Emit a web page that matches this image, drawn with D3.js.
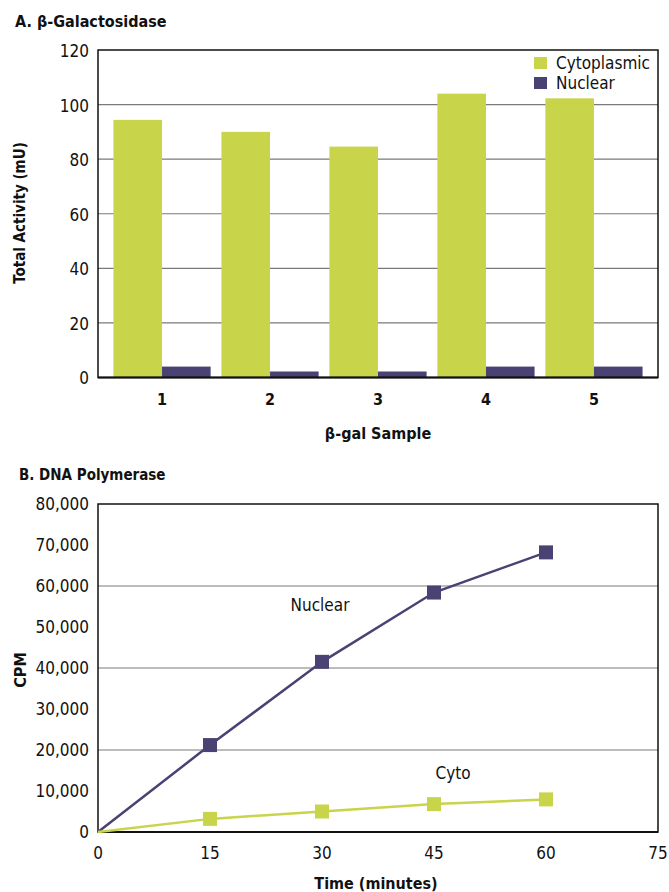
<!DOCTYPE html>
<html lang="en">
<head>
<meta charset="UTF-8">
<title>Cytoplasmic vs nuclear activity</title>
<style>
  body { margin: 0; background: #fff; }
  svg text { font-family: "Liberation Sans Narrow", "DejaVu Sans Condensed", "Roboto", sans-serif; font-stretch: condensed; fill: #111; }
</style>
</head>
<body>
<svg id="chart" width="669" height="892"></svg>
<script src="https://d3js.org/d3.v7.min.js"></script>
<script>

// panel A data
var samples = ["1", "2", "3", "4", "5"];
var cytoActivity = [94.4, 90, 84.6, 104, 102.3];
var nucActivity = [4, 2.2, 2.2, 4, 4];
var activityTicks = [0, 20, 40, 60, 80, 100, 120];

// panel B data
var minutes = [0, 15, 30, 45, 60];
var nuclearCpm = [0, 21200, 41500, 58400, 68200];
var cytoCpm = [0, 3200, 5000, 6800, 7950];
var cpmTicks = [0, 10000, 20000, 30000, 40000, 50000, 60000, 70000, 80000];
var timeTicks = [0, 15, 30, 45, 60, 75];

var green = "#c8d54a",
  purple = "#4b4274";

var svg = d3.select("#chart");
var left = 98, right = 658;

// ---------- A ----------
var gA = svg.append("g");

gA.append("text")
  .attr("x", 15).attr("y", 27)
  .attr("font-size", 16).attr("font-weight", "bold")
  .text("A. β-Galactosidase");

var yA = d3.scaleLinear().domain([0, 120]).range([377.5, 50]);
var xA = d3.scaleBand().domain(samples).range([left, right])
  .paddingInner(0.1).paddingOuter(0.143);
var xSub = d3.scaleBand().domain(["cyto", "nuc"]).range([0, xA.bandwidth()]);

// grid lines
gA.selectAll(".grid").data(activityTicks.slice(1, -1)).join("line")
  .attr("x1", left).attr("x2", right)
  .attr("y1", d => yA(d)).attr("y2", d => yA(d))
  .attr("stroke", "#7a7a7a").attr("stroke-width", 1.2);

gA.selectAll(".cyto").data(cytoActivity).join("rect")
  .attr("x", (d, i) => xA(samples[i]) + xSub("cyto"))
  .attr("width", xSub.bandwidth())
  .attr("y", d => yA(d))
  .attr("height", d => yA(0) - yA(d))
  .attr("fill", green);

gA.selectAll(".nuc").data(nucActivity).join("rect")
  .attr("x", (d, i) => xA(samples[i]) + xSub("nuc"))
  .attr("width", xSub.bandwidth())
  .attr("y", d => yA(d))
  .attr("height", d => yA(0) - yA(d))
  .attr("fill", purple);

gA.append("rect")
  .attr("x", left).attr("y", yA(120))
  .attr("width", right - left).attr("height", yA(0) - yA(120))
  .attr("fill", "none").attr("stroke", "#111").attr("stroke-width", 1.5);
gA.append("line")
  .attr("x1", left).attr("x2", right).attr("y1", yA(0)).attr("y2", yA(0))
  .attr("stroke", "#111").attr("stroke-width", 2);

gA.selectAll(".ytick").data(activityTicks).join("text")
  .attr("x", 89).attr("y", d => yA(d) + 1)
  .attr("dy", "0.35em")
  .attr("text-anchor", "end").attr("font-size", 17)
  .text(d => d);

gA.selectAll(".xtick").data(samples).join("text")
  .attr("x", d => xA(d) + xA.bandwidth() / 2).attr("y", 399)
  .attr("dy", "0.35em")
  .attr("text-anchor", "middle").attr("font-size", 16).attr("font-weight", "bold")
  .text(d => d);

gA.append("text")
  .attr("x", 378).attr("y", 433).attr("dy", "0.35em")
  .attr("text-anchor", "middle").attr("font-size", 16).attr("font-weight", "bold")
  .text("β-gal Sample");

gA.append("text")
  .attr("transform", "translate(20,213) rotate(-90)")
  .attr("dy", "0.35em")
  .attr("text-anchor", "middle").attr("font-size", 15).attr("font-weight", "bold")
  .text("Total Activity (mU)");

// legend
var legend = gA.selectAll(".legend")
  .data([{ name: "Cytoplasmic", color: green }, { name: "Nuclear", color: purple }])
  .join("g")
  .attr("transform", (d, i) => "translate(534," + (57 + i * 20) + ")");
legend.append("rect").attr("width", 13).attr("height", 12).attr("fill", d => d.color);
legend.append("text")
  .attr("x", 22).attr("y", 6).attr("dy", "0.35em")
  .attr("font-size", 17)
  .text(d => d.name);

// ---------- B ----------
var gB = svg.append("g");

gB.append("text")
  .attr("x", 19).attr("y", 480)
  .attr("font-size", 15).attr("font-weight", "bold")
  .text("B. DNA Polymerase");

var xB = d3.scaleLinear().domain([0, 75]).range([left, right]);
var yB = d3.scaleLinear().domain([0, 80000]).range([832, 504]);

gB.selectAll(".grid").data([20000, 40000, 60000]).join("line")
  .attr("x1", left).attr("x2", right)
  .attr("y1", d => yB(d)).attr("y2", d => yB(d))
  .attr("stroke", "#7a7a7a").attr("stroke-width", 1.2);

gB.append("rect")
  .attr("x", left).attr("y", yB(80000))
  .attr("width", right - left).attr("height", yB(0) - yB(80000))
  .attr("fill", "none").attr("stroke", "#111").attr("stroke-width", 1.5);
gB.append("line")
  .attr("x1", left).attr("x2", right).attr("y1", yB(0)).attr("y2", yB(0))
  .attr("stroke", "#111").attr("stroke-width", 2);

var line = d3.line().x(d => xB(d[0])).y(d => yB(d[1]));

var series = [
  { name: "Nuclear", color: purple, values: nuclearCpm },
  { name: "Cyto", color: green, values: cytoCpm }
];

series.forEach(function (s) {
  var pts = minutes.map((m, i) => [m, s.values[i]]);
  gB.append("path")
    .attr("d", line(pts))
    .attr("fill", "none").attr("stroke", s.color).attr("stroke-width", 2.5);
  gB.selectAll(null).data(pts.slice(1)).join("rect")
    .attr("x", d => xB(d[0]) - 7).attr("y", d => yB(d[1]) - 7)
    .attr("width", 14).attr("height", 14)
    .attr("fill", s.color);
});

gB.append("text")
  .attr("x", 320).attr("y", 605).attr("dy", "0.35em")
  .attr("text-anchor", "middle").attr("font-size", 17)
  .text("Nuclear");
gB.append("text")
  .attr("x", 453).attr("y", 773).attr("dy", "0.35em")
  .attr("text-anchor", "middle").attr("font-size", 17)
  .text("Cyto");

gB.selectAll(".ytick").data(cpmTicks).join("text")
  .attr("x", 89).attr("y", d => yB(d))
  .attr("dy", "0.35em")
  .attr("text-anchor", "end").attr("font-size", 17)
  .text(d => d3.format(",")(d));

gB.selectAll(".xtick").data(timeTicks).join("text")
  .attr("x", d => xB(d)).attr("y", 853)
  .attr("dy", "0.35em")
  .attr("text-anchor", "middle").attr("font-size", 17)
  .text(d => d);

gB.append("text")
  .attr("x", 376).attr("y", 883).attr("dy", "0.35em")
  .attr("text-anchor", "middle").attr("font-size", 16).attr("font-weight", "bold")
  .text("Time (minutes)");

gB.append("text")
  .attr("transform", "translate(20,670) rotate(-90)")
  .attr("dy", "0.35em")
  .attr("text-anchor", "middle").attr("font-size", 16).attr("font-weight", "bold")
  .text("CPM");

</script>
</body>
</html>
